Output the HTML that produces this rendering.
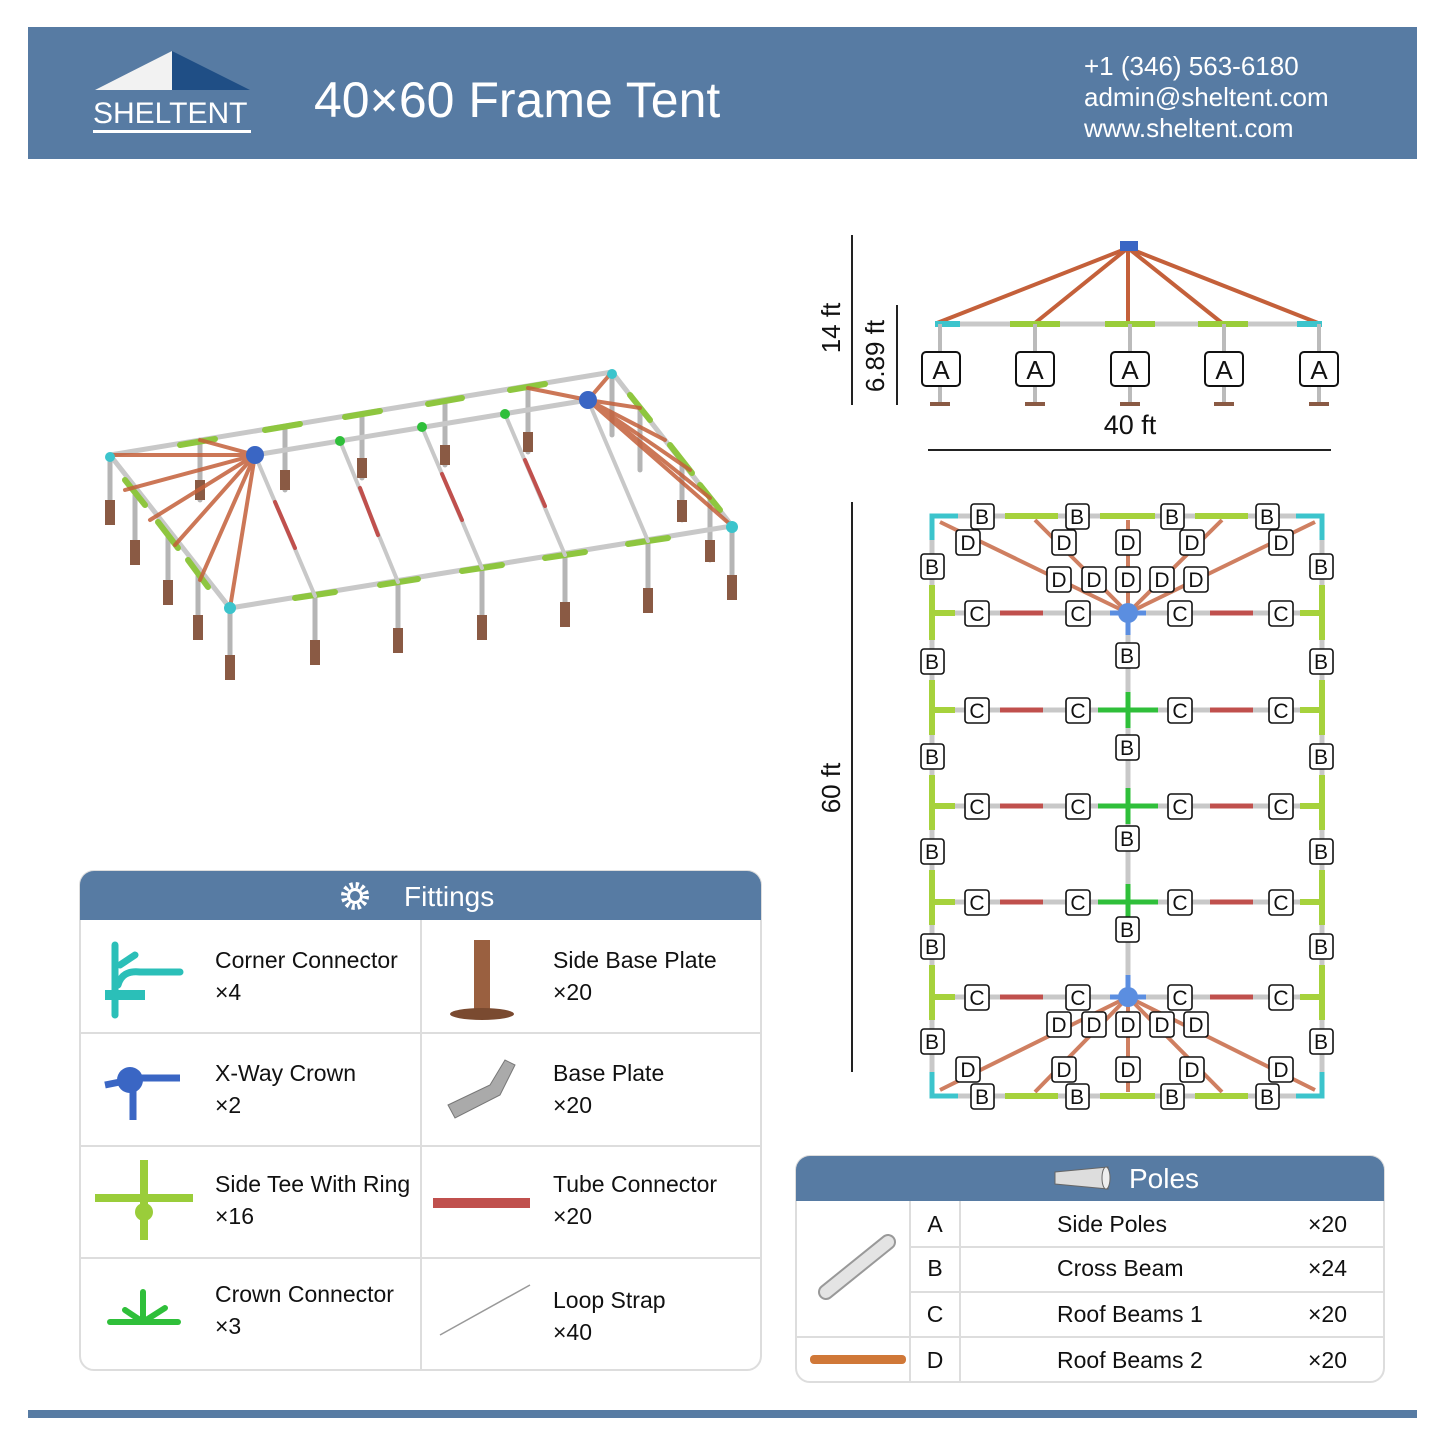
<!DOCTYPE html>
<html><head><meta charset="utf-8"><style>
body{margin:0;width:1445px;height:1445px;background:#fff;font-family:"Liberation Sans",sans-serif;overflow:hidden}
</style></head><body>
<svg width="1445" height="1445" xmlns="http://www.w3.org/2000/svg" font-family="Liberation Sans, sans-serif">
<!-- header -->
<rect x="28" y="27" width="1389" height="132" fill="#577ba3"/>
<polygon points="95,90 172,51 172,90" fill="#f2f2f2"/>
<polygon points="172,51 250,90 172,90" fill="#1f4e85"/>
<text x="93" y="123" font-size="30" fill="#fff">SHELTENT</text>
<rect x="93" y="130" width="158" height="3" fill="#fff"/>
<text x="314" y="117" font-size="50" fill="#fff">40×60 Frame Tent</text>
<text x="1084" y="75" font-size="26" fill="#fff">+1 (346) 563-6180</text>
<text x="1084" y="106" font-size="26" fill="#fff">admin@sheltent.com</text>
<text x="1084" y="137" font-size="26" fill="#fff">www.sheltent.com</text>
<rect x="28" y="1410" width="1389" height="8" fill="#577ba3"/>

<!-- 3D view -->
<g stroke-linecap="round">
 <g stroke="#b5b5b5" stroke-width="5">
  <line x1="110" y1="458" x2="110" y2="520"/><line x1="135" y1="495" x2="135" y2="560"/><line x1="168" y1="537" x2="168" y2="600"/><line x1="198" y1="575" x2="198" y2="635"/><line x1="230" y1="610" x2="230" y2="675"/>
  <line x1="315" y1="596" x2="315" y2="660"/><line x1="398" y1="582" x2="398" y2="648"/><line x1="482" y1="568" x2="482" y2="635"/><line x1="565" y1="555" x2="565" y2="622"/><line x1="648" y1="541" x2="648" y2="608"/><line x1="732" y1="527" x2="732" y2="595"/>
  <line x1="710" y1="498" x2="710" y2="560"/><line x1="682" y1="460" x2="682" y2="520"/><line x1="640" y1="408" x2="640" y2="470"/><line x1="612" y1="372" x2="612" y2="435"/>
  <line x1="200" y1="440" x2="200" y2="500"/><line x1="285" y1="427" x2="285" y2="490"/><line x1="362" y1="415" x2="362" y2="478"/><line x1="445" y1="402" x2="445" y2="465"/><line x1="528" y1="388" x2="528" y2="452"/>
 </g>
 <g fill="#8a5a44">
  <rect x="105" y="500" width="10" height="25"/><rect x="130" y="540" width="10" height="25"/><rect x="163" y="580" width="10" height="25"/><rect x="193" y="615" width="10" height="25"/><rect x="225" y="655" width="10" height="25"/>
  <rect x="310" y="640" width="10" height="25"/><rect x="393" y="628" width="10" height="25"/><rect x="477" y="615" width="10" height="25"/><rect x="560" y="602" width="10" height="25"/><rect x="643" y="588" width="10" height="25"/><rect x="727" y="575" width="10" height="25"/>
  <rect x="705" y="540" width="10" height="22"/><rect x="677" y="500" width="10" height="22"/><rect x="195" y="480" width="10" height="20"/><rect x="280" y="470" width="10" height="20"/><rect x="357" y="458" width="10" height="20"/><rect x="440" y="445" width="10" height="20"/><rect x="523" y="432" width="10" height="20"/>
 </g>
 <g stroke="#c8c8c8" stroke-width="5" fill="none">
  <polyline points="110,455 612,372 732,526 230,608 110,455"/>
  <line x1="255" y1="455" x2="588" y2="400"/>
 </g>
 <g stroke="#8ec63f" stroke-width="6">
  <line x1="180" y1="445" x2="215" y2="439"/><line x1="265" y1="430" x2="300" y2="424"/><line x1="345" y1="417" x2="380" y2="411"/><line x1="428" y1="404" x2="462" y2="398"/><line x1="510" y1="390" x2="545" y2="384"/>
  <line x1="295" y1="598" x2="335" y2="592"/><line x1="380" y1="585" x2="418" y2="579"/><line x1="462" y1="571" x2="502" y2="565"/><line x1="545" y1="558" x2="585" y2="552"/><line x1="628" y1="544" x2="668" y2="538"/>
  <line x1="125" y1="480" x2="145" y2="505"/><line x1="158" y1="522" x2="178" y2="548"/><line x1="188" y1="560" x2="208" y2="587"/><line x1="630" y1="395" x2="650" y2="420"/><line x1="670" y1="445" x2="692" y2="473"/><line x1="700" y1="485" x2="720" y2="510"/>
 </g>
 <g stroke="#c4603a" stroke-width="4" opacity="0.85">
  <line x1="255" y1="455" x2="110" y2="455"/><line x1="255" y1="455" x2="125" y2="490"/><line x1="255" y1="455" x2="150" y2="520"/><line x1="255" y1="455" x2="175" y2="545"/><line x1="255" y1="455" x2="200" y2="580"/><line x1="255" y1="455" x2="230" y2="608"/><line x1="255" y1="455" x2="200" y2="440"/>
  <line x1="588" y1="400" x2="612" y2="372"/><line x1="588" y1="400" x2="640" y2="408"/><line x1="588" y1="400" x2="665" y2="440"/><line x1="588" y1="400" x2="690" y2="470"/><line x1="588" y1="400" x2="710" y2="498"/><line x1="588" y1="400" x2="732" y2="526"/><line x1="588" y1="400" x2="528" y2="388"/>
 </g>
 <g stroke="#c8c8c8" stroke-width="4">
  <line x1="255" y1="455" x2="315" y2="596"/><line x1="340" y1="441" x2="398" y2="582"/><line x1="422" y1="427" x2="482" y2="568"/><line x1="505" y1="414" x2="565" y2="555"/><line x1="588" y1="400" x2="648" y2="541"/>
 </g>
 <g stroke="#c0504d" stroke-width="4">
  <line x1="275" y1="502" x2="295" y2="548"/><line x1="360" y1="488" x2="378" y2="535"/><line x1="442" y1="474" x2="462" y2="520"/><line x1="525" y1="460" x2="545" y2="506"/>
 </g>
 <g fill="#2fbf3a"><circle cx="340" cy="441" r="5"/><circle cx="422" cy="427" r="5"/><circle cx="505" cy="414" r="5"/></g>
 <g fill="#3a66c4"><circle cx="255" cy="455" r="9"/><circle cx="588" cy="400" r="9"/></g>
 <g fill="#3cc4cc"><circle cx="110" cy="457" r="5"/><circle cx="612" cy="374" r="5"/><circle cx="732" cy="527" r="6"/><circle cx="230" cy="608" r="6"/></g>
</g>

<!-- elevation -->
<g>
 <line x1="852" y1="235" x2="852" y2="405" stroke="#222" stroke-width="2"/>
 <line x1="897" y1="305" x2="897" y2="405" stroke="#222" stroke-width="2"/>
 <line x1="928" y1="450" x2="1331" y2="450" stroke="#222" stroke-width="2"/>
 <text transform="translate(840,328) rotate(-90)" font-size="26" text-anchor="middle" fill="#111">14 ft</text>
 <text transform="translate(884,356) rotate(-90)" font-size="26" text-anchor="middle" fill="#111">6.89 ft</text>
 <text x="1130" y="434" font-size="27" text-anchor="middle" fill="#111">40 ft</text>
 <g stroke="#c4603a" stroke-width="4">
  <line x1="1128" y1="248" x2="937" y2="323"/><line x1="1128" y1="248" x2="1035" y2="323"/><line x1="1128" y1="248" x2="1128" y2="323"/><line x1="1128" y1="248" x2="1222" y2="323"/><line x1="1128" y1="248" x2="1318" y2="323"/>
 </g>
 <line x1="937" y1="324" x2="1320" y2="324" stroke="#c8c8c8" stroke-width="5"/>
 <g stroke="#9acd3a" stroke-width="6"><line x1="1010" y1="324" x2="1060" y2="324"/><line x1="1105" y1="324" x2="1155" y2="324"/><line x1="1198" y1="324" x2="1248" y2="324"/></g>
 <g stroke="#3cc4cc" stroke-width="6"><line x1="935" y1="324" x2="960" y2="324"/><line x1="1297" y1="324" x2="1322" y2="324"/></g>
 <rect x="1120" y="241" width="18" height="10" fill="#3a66c4"/>
 <g stroke="#bbb" stroke-width="4"><line x1="940" y1="324" x2="940" y2="405"/><line x1="1035" y1="324" x2="1035" y2="405"/><line x1="1130" y1="324" x2="1130" y2="405"/><line x1="1224" y1="324" x2="1224" y2="405"/><line x1="1319" y1="324" x2="1319" y2="405"/></g>
 <g fill="#8a5a44"><rect x="930" y="402" width="20" height="4"/><rect x="1025" y="402" width="20" height="4"/><rect x="1120" y="402" width="20" height="4"/><rect x="1214" y="402" width="20" height="4"/><rect x="1309" y="402" width="20" height="4"/></g>
 <g font-size="26" text-anchor="middle" fill="#111">
  <rect x="922" y="352" width="38" height="34" rx="4" fill="#fff" stroke="#111" stroke-width="2"/><text x="941" y="379">A</text>
  <rect x="1016" y="352" width="38" height="34" rx="4" fill="#fff" stroke="#111" stroke-width="2"/><text x="1035" y="379">A</text>
  <rect x="1111" y="352" width="38" height="34" rx="4" fill="#fff" stroke="#111" stroke-width="2"/><text x="1130" y="379">A</text>
  <rect x="1205" y="352" width="38" height="34" rx="4" fill="#fff" stroke="#111" stroke-width="2"/><text x="1224" y="379">A</text>
  <rect x="1300" y="352" width="38" height="34" rx="4" fill="#fff" stroke="#111" stroke-width="2"/><text x="1319" y="379">A</text>
 </g>
</g>

<!-- plan -->
<g>
 <line x1="852" y1="502" x2="852" y2="1072" stroke="#222" stroke-width="2"/>
 <text transform="translate(840,788) rotate(-90)" font-size="26" text-anchor="middle" fill="#111">60 ft</text>
 <g stroke="#c8c8c8" stroke-width="5" fill="none">
  <rect x="932" y="516" width="390" height="580"/>
  <line x1="1128" y1="613" x2="1128" y2="997"/>
  <line x1="932" y1="613" x2="1322" y2="613"/><line x1="932" y1="710" x2="1322" y2="710"/><line x1="932" y1="806" x2="1322" y2="806"/><line x1="932" y1="902" x2="1322" y2="902"/><line x1="932" y1="997" x2="1322" y2="997"/>
 </g>
 <g stroke="#c4603a" stroke-width="4" opacity="0.8">
  <line x1="1128" y1="613" x2="940" y2="522"/><line x1="1128" y1="613" x2="1035" y2="520"/><line x1="1128" y1="613" x2="1128" y2="520"/><line x1="1128" y1="613" x2="1222" y2="520"/><line x1="1128" y1="613" x2="1315" y2="522"/>
  <line x1="1128" y1="997" x2="940" y2="1090"/><line x1="1128" y1="997" x2="1035" y2="1092"/><line x1="1128" y1="997" x2="1128" y2="1092"/><line x1="1128" y1="997" x2="1222" y2="1092"/><line x1="1128" y1="997" x2="1315" y2="1090"/>
 </g>
 <g stroke="#c0504d" stroke-width="5">
  <line x1="1000" y1="613" x2="1043" y2="613"/><line x1="1210" y1="613" x2="1253" y2="613"/><line x1="1000" y1="710" x2="1043" y2="710"/><line x1="1210" y1="710" x2="1253" y2="710"/><line x1="1000" y1="806" x2="1043" y2="806"/><line x1="1210" y1="806" x2="1253" y2="806"/><line x1="1000" y1="902" x2="1043" y2="902"/><line x1="1210" y1="902" x2="1253" y2="902"/><line x1="1000" y1="997" x2="1043" y2="997"/><line x1="1210" y1="997" x2="1253" y2="997"/>
 </g>
 <g stroke="#a6d23c" stroke-width="6">
  <line x1="1005" y1="516" x2="1058" y2="516"/><line x1="1100" y1="516" x2="1155" y2="516"/><line x1="1195" y1="516" x2="1248" y2="516"/>
  <line x1="1005" y1="1096" x2="1058" y2="1096"/><line x1="1100" y1="1096" x2="1155" y2="1096"/><line x1="1195" y1="1096" x2="1248" y2="1096"/>
  <line x1="932" y1="585" x2="932" y2="640"/><line x1="932" y1="680" x2="932" y2="735"/><line x1="932" y1="775" x2="932" y2="830"/><line x1="932" y1="870" x2="932" y2="925"/><line x1="932" y1="965" x2="932" y2="1020"/>
  <line x1="1322" y1="585" x2="1322" y2="640"/><line x1="1322" y1="680" x2="1322" y2="735"/><line x1="1322" y1="775" x2="1322" y2="830"/><line x1="1322" y1="870" x2="1322" y2="925"/><line x1="1322" y1="965" x2="1322" y2="1020"/>
  <line x1="932" y1="613" x2="955" y2="613"/><line x1="932" y1="710" x2="955" y2="710"/><line x1="932" y1="806" x2="955" y2="806"/><line x1="932" y1="902" x2="955" y2="902"/><line x1="932" y1="997" x2="955" y2="997"/>
  <line x1="1300" y1="613" x2="1322" y2="613"/><line x1="1300" y1="710" x2="1322" y2="710"/><line x1="1300" y1="806" x2="1322" y2="806"/><line x1="1300" y1="902" x2="1322" y2="902"/><line x1="1300" y1="997" x2="1322" y2="997"/>
 </g>
 <g stroke="#2fbf3a" stroke-width="5">
  <line x1="1098" y1="710" x2="1158" y2="710"/><line x1="1128" y1="692" x2="1128" y2="728"/>
  <line x1="1098" y1="806" x2="1158" y2="806"/><line x1="1128" y1="788" x2="1128" y2="824"/>
  <line x1="1098" y1="902" x2="1158" y2="902"/><line x1="1128" y1="884" x2="1128" y2="920"/>
 </g>
 <g stroke="#3cc4cc" stroke-width="5" fill="none">
  <polyline points="932,540 932,516 958,516"/><polyline points="1296,516 1322,516 1322,540"/><polyline points="932,1072 932,1096 958,1096"/><polyline points="1296,1096 1322,1096 1322,1072"/>
 </g>
 <g fill="#5b8ee0"><circle cx="1128" cy="613" r="10"/><circle cx="1128" cy="997" r="10"/></g>
 <g stroke="#5b8ee0" stroke-width="5"><line x1="1110" y1="613" x2="1146" y2="613"/><line x1="1128" y1="613" x2="1128" y2="635"/><line x1="1110" y1="997" x2="1146" y2="997"/><line x1="1128" y1="975" x2="1128" y2="997"/></g>
 <g font-size="21" text-anchor="middle" fill="#111" stroke-width="1.6">
  <g fill="#fff" stroke="#111">
   <rect x="971" y="504" width="23" height="25" rx="3"/><rect x="1066" y="504" width="23" height="25" rx="3"/><rect x="1161" y="504" width="23" height="25" rx="3"/><rect x="1256" y="504" width="23" height="25" rx="3"/>
   <rect x="971" y="1084" width="23" height="25" rx="3"/><rect x="1066" y="1084" width="23" height="25" rx="3"/><rect x="1161" y="1084" width="23" height="25" rx="3"/><rect x="1256" y="1084" width="23" height="25" rx="3"/>
   <rect x="921" y="554" width="23" height="25" rx="3"/><rect x="921" y="649" width="23" height="25" rx="3"/><rect x="921" y="744" width="23" height="25" rx="3"/><rect x="921" y="839" width="23" height="25" rx="3"/><rect x="921" y="934" width="23" height="25" rx="3"/><rect x="921" y="1029" width="23" height="25" rx="3"/>
   <rect x="1310" y="554" width="23" height="25" rx="3"/><rect x="1310" y="649" width="23" height="25" rx="3"/><rect x="1310" y="744" width="23" height="25" rx="3"/><rect x="1310" y="839" width="23" height="25" rx="3"/><rect x="1310" y="934" width="23" height="25" rx="3"/><rect x="1310" y="1029" width="23" height="25" rx="3"/>
   <rect x="1116" y="643" width="23" height="25" rx="3"/><rect x="1116" y="735" width="23" height="25" rx="3"/><rect x="1116" y="826" width="23" height="25" rx="3"/><rect x="1116" y="917" width="23" height="25" rx="3"/>
   <rect x="965" y="601" width="24" height="25" rx="3"/><rect x="1066" y="601" width="24" height="25" rx="3"/><rect x="1168" y="601" width="24" height="25" rx="3"/><rect x="1269" y="601" width="24" height="25" rx="3"/>
   <rect x="965" y="698" width="24" height="25" rx="3"/><rect x="1066" y="698" width="24" height="25" rx="3"/><rect x="1168" y="698" width="24" height="25" rx="3"/><rect x="1269" y="698" width="24" height="25" rx="3"/>
   <rect x="965" y="794" width="24" height="25" rx="3"/><rect x="1066" y="794" width="24" height="25" rx="3"/><rect x="1168" y="794" width="24" height="25" rx="3"/><rect x="1269" y="794" width="24" height="25" rx="3"/>
   <rect x="965" y="890" width="24" height="25" rx="3"/><rect x="1066" y="890" width="24" height="25" rx="3"/><rect x="1168" y="890" width="24" height="25" rx="3"/><rect x="1269" y="890" width="24" height="25" rx="3"/>
   <rect x="965" y="985" width="24" height="25" rx="3"/><rect x="1066" y="985" width="24" height="25" rx="3"/><rect x="1168" y="985" width="24" height="25" rx="3"/><rect x="1269" y="985" width="24" height="25" rx="3"/>
   <rect x="956" y="530" width="24" height="25" rx="3"/><rect x="1052" y="530" width="24" height="25" rx="3"/><rect x="1116" y="530" width="24" height="25" rx="3"/><rect x="1180" y="530" width="24" height="25" rx="3"/><rect x="1269" y="530" width="24" height="25" rx="3"/>
   <rect x="1047" y="567" width="24" height="25" rx="3"/><rect x="1082" y="567" width="24" height="25" rx="3"/><rect x="1116" y="567" width="24" height="25" rx="3"/><rect x="1150" y="567" width="24" height="25" rx="3"/><rect x="1184" y="567" width="24" height="25" rx="3"/>
   <rect x="1047" y="1012" width="24" height="25" rx="3"/><rect x="1082" y="1012" width="24" height="25" rx="3"/><rect x="1116" y="1012" width="24" height="25" rx="3"/><rect x="1150" y="1012" width="24" height="25" rx="3"/><rect x="1184" y="1012" width="24" height="25" rx="3"/>
   <rect x="956" y="1057" width="24" height="25" rx="3"/><rect x="1052" y="1057" width="24" height="25" rx="3"/><rect x="1116" y="1057" width="24" height="25" rx="3"/><rect x="1180" y="1057" width="24" height="25" rx="3"/><rect x="1269" y="1057" width="24" height="25" rx="3"/>
  </g>
  <g stroke="none">
   <text x="982" y="524">B</text><text x="1077" y="524">B</text><text x="1172" y="524">B</text><text x="1267" y="524">B</text>
   <text x="982" y="1104">B</text><text x="1077" y="1104">B</text><text x="1172" y="1104">B</text><text x="1267" y="1104">B</text>
   <text x="932" y="574">B</text><text x="932" y="669">B</text><text x="932" y="764">B</text><text x="932" y="859">B</text><text x="932" y="954">B</text><text x="932" y="1049">B</text>
   <text x="1321" y="574">B</text><text x="1321" y="669">B</text><text x="1321" y="764">B</text><text x="1321" y="859">B</text><text x="1321" y="954">B</text><text x="1321" y="1049">B</text>
   <text x="1127" y="663">B</text><text x="1127" y="755">B</text><text x="1127" y="846">B</text><text x="1127" y="937">B</text>
   <text x="977" y="621">C</text><text x="1078" y="621">C</text><text x="1180" y="621">C</text><text x="1281" y="621">C</text>
   <text x="977" y="718">C</text><text x="1078" y="718">C</text><text x="1180" y="718">C</text><text x="1281" y="718">C</text>
   <text x="977" y="814">C</text><text x="1078" y="814">C</text><text x="1180" y="814">C</text><text x="1281" y="814">C</text>
   <text x="977" y="910">C</text><text x="1078" y="910">C</text><text x="1180" y="910">C</text><text x="1281" y="910">C</text>
   <text x="977" y="1005">C</text><text x="1078" y="1005">C</text><text x="1180" y="1005">C</text><text x="1281" y="1005">C</text>
   <text x="968" y="550">D</text><text x="1064" y="550">D</text><text x="1128" y="550">D</text><text x="1192" y="550">D</text><text x="1281" y="550">D</text>
   <text x="1059" y="587">D</text><text x="1094" y="587">D</text><text x="1128" y="587">D</text><text x="1162" y="587">D</text><text x="1196" y="587">D</text>
   <text x="1059" y="1032">D</text><text x="1094" y="1032">D</text><text x="1128" y="1032">D</text><text x="1162" y="1032">D</text><text x="1196" y="1032">D</text>
   <text x="968" y="1077">D</text><text x="1064" y="1077">D</text><text x="1128" y="1077">D</text><text x="1192" y="1077">D</text><text x="1281" y="1077">D</text>
  </g>
 </g>
</g>

<!-- Fittings table -->
<g>
 <rect x="80" y="871" width="681" height="499" rx="14" fill="#fff" stroke="#ddd" stroke-width="2"/>
 <path d="M80,920 V885 a14,14 0 0 1 14,-14 H747 a14,14 0 0 1 14,14 V920 Z" fill="#577ba3"/>
 <circle cx="355" cy="896" r="11" fill="none" stroke="#fff" stroke-width="6" stroke-dasharray="3 2.8"/>
 <circle cx="355" cy="896" r="8" fill="#fff"/><circle cx="355" cy="896" r="5" fill="#577ba3"/>
 <text x="404" y="906" font-size="28" fill="#fff">Fittings</text>
 <g stroke="#ddd" stroke-width="2"><line x1="421" y1="920" x2="421" y2="1370"/><line x1="80" y1="1033" x2="761" y2="1033"/><line x1="80" y1="1146" x2="761" y2="1146"/><line x1="80" y1="1258" x2="761" y2="1258"/></g>
 <g font-size="23" fill="#111">
  <text x="215" y="968">Corner Connector</text><text x="215" y="1000">×4</text>
  <text x="215" y="1081">X-Way Crown</text><text x="215" y="1113">×2</text>
  <text x="215" y="1192">Side Tee With Ring</text><text x="215" y="1224">×16</text>
  <text x="215" y="1302">Crown Connector</text><text x="215" y="1334">×3</text>
  <text x="553" y="968">Side Base Plate</text><text x="553" y="1000">×20</text>
  <text x="553" y="1081">Base Plate</text><text x="553" y="1113">×20</text>
  <text x="553" y="1192">Tube Connector</text><text x="553" y="1224">×20</text>
  <text x="553" y="1308">Loop Strap</text><text x="553" y="1340">×40</text>
 </g>
 <g stroke="#2bbfb8" stroke-width="7" fill="none" stroke-linecap="round"><path d="M115,945 V1015"/><path d="M118,985 Q122,970 140,972 H180"/><line x1="120" y1="965" x2="135" y2="955"/></g>
 <rect x="105" y="990" width="40" height="10" fill="#2bbfb8"/>
 <circle cx="130" cy="1080" r="13" fill="#3a66c4"/><g stroke="#3a66c4" stroke-width="7"><line x1="130" y1="1078" x2="180" y2="1078"/><line x1="133" y1="1080" x2="133" y2="1120"/><line x1="105" y1="1085" x2="120" y2="1082"/></g>
 <g stroke="#9acd3a" stroke-width="8"><line x1="95" y1="1198" x2="193" y2="1198"/><line x1="144" y1="1160" x2="144" y2="1240"/></g><circle cx="144" cy="1212" r="9" fill="#9acd3a"/>
 <g stroke="#2fbf3a" stroke-width="6" stroke-linecap="round"><line x1="110" y1="1322" x2="178" y2="1322"/><line x1="143" y1="1292" x2="143" y2="1322"/><line x1="143" y1="1322" x2="125" y2="1310"/><line x1="143" y1="1322" x2="165" y2="1308"/></g>
 <rect x="474" y="940" width="16" height="70" fill="#9a6040"/><ellipse cx="482" cy="1014" rx="32" ry="6" fill="#7a4a30"/>
 <polygon points="448,1105 490,1085 505,1060 515,1065 500,1095 455,1118" fill="#aaa" stroke="#777"/>
 <rect x="433" y="1198" width="97" height="10" fill="#c0504d"/>
 <line x1="440" y1="1335" x2="530" y2="1285" stroke="#999" stroke-width="1.5"/>
</g>

<!-- Poles table -->
<g>
 <rect x="796" y="1156" width="588" height="226" rx="14" fill="#fff" stroke="#ddd" stroke-width="2"/>
 <path d="M796,1201 V1170 a14,14 0 0 1 14,-14 H1370 a14,14 0 0 1 14,14 V1201 Z" fill="#577ba3"/>
 <polygon points="1055,1172 1108,1167 1108,1189 1055,1184" fill="#ddd" stroke="#666"/>
 <ellipse cx="1106" cy="1178" rx="4" ry="11" fill="#eee" stroke="#666"/>
 <text x="1129" y="1188" font-size="28" fill="#fff">Poles</text>
 <g stroke="#ddd" stroke-width="2"><line x1="910" y1="1201" x2="910" y2="1382"/><line x1="960" y1="1201" x2="960" y2="1382"/><line x1="910" y1="1247" x2="1384" y2="1247"/><line x1="910" y1="1292" x2="1384" y2="1292"/><line x1="796" y1="1337" x2="1384" y2="1337"/></g>
 <line x1="826" y1="1292" x2="888" y2="1242" stroke="#999" stroke-width="16" stroke-linecap="round"/>
 <line x1="826" y1="1292" x2="888" y2="1242" stroke="#e4e4e4" stroke-width="12" stroke-linecap="round"/>
 <rect x="810" y="1355" width="96" height="9" rx="4" fill="#d07838"/>
 <g font-size="23" fill="#111">
  <text x="935" y="1232" text-anchor="middle">A</text><text x="935" y="1276" text-anchor="middle">B</text><text x="935" y="1322" text-anchor="middle">C</text><text x="935" y="1368" text-anchor="middle">D</text>
  <text x="1057" y="1232">Side Poles</text><text x="1057" y="1276">Cross Beam</text><text x="1057" y="1322">Roof Beams 1</text><text x="1057" y="1368">Roof Beams 2</text>
  <text x="1308" y="1232">×20</text><text x="1308" y="1276">×24</text><text x="1308" y="1322">×20</text><text x="1308" y="1368">×20</text>
 </g>
</g>
</svg>
</body></html>
